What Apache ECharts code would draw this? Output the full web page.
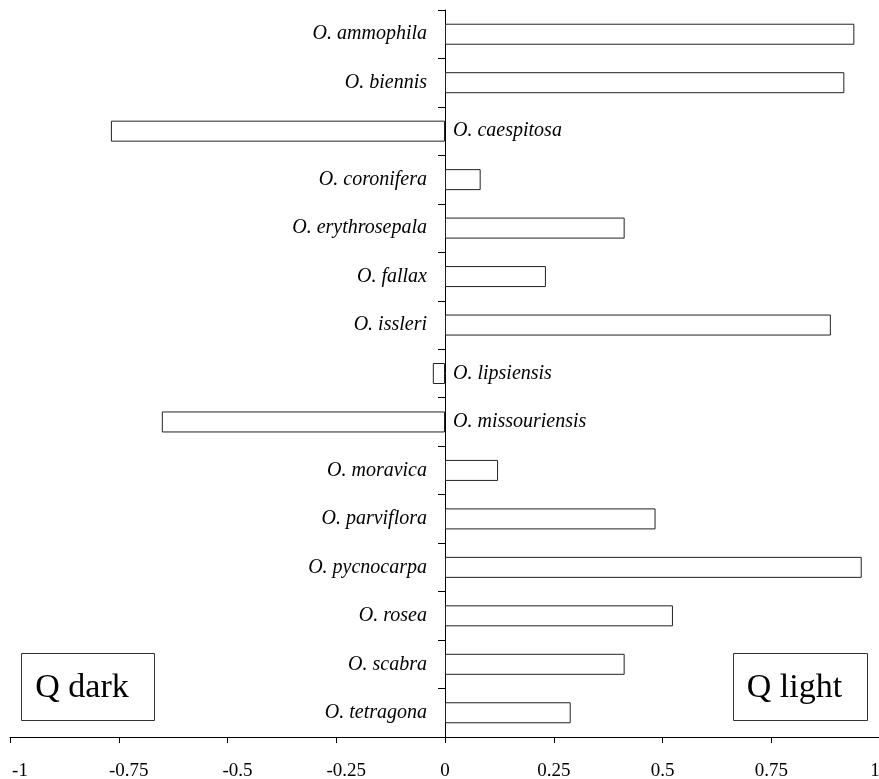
<!DOCTYPE html>
<html>
<head>
<meta charset="utf-8">
<script src="https://cdn.jsdelivr.net/npm/echarts@6/dist/echarts.min.js"></script>
<style>
html,body{margin:0;padding:0;background:#fff;}
#chart{width:879px;height:779px;}
</style>
</head>
<body>
<div id="chart"></div>
<script>
const species = ['O. ammophila','O. biennis','O. caespitosa','O. coronifera','O. erythrosepala','O. fallax','O. issleri','O. lipsiensis','O. missouriensis','O. moravica','O. parviflora','O. pycnocarpa','O. rosea','O. scabra','O. tetragona'];
const qValues = [0.941, 0.918, -0.768, 0.082, 0.413, 0.232, 0.887, -0.028, -0.651, 0.122, 0.484, 0.958, 0.524, 0.413, 0.289];
const xTicks = [-1, -0.75, -0.5, -0.25, 0, 0.25, 0.5, 0.75, 1];
const boxLabels = ['Q dark', 'Q light'];

const serif = '"Liberation Serif","Times New Roman",serif';

const chart = echarts.init(document.getElementById('chart'), null, {renderer: 'canvas'});

const barData = qValues.map(v => ({
  value: v,
  label: v < 0 ? {position: 'right', distance: 8} : {position: 'left', distance: 18}
}));

const tickFont = {fontFamily: serif, fontSize: 19, color: '#000'};

chart.setOption({
  animation: false,
  backgroundColor: '#ffffff',
  grid: {left: 10, width: 870, top: 10, bottom: 42, containLabel: false, outerBoundsMode: 'none'},
  xAxis: {
    type: 'value',
    position: 'bottom',
    min: xTicks[0],
    max: xTicks[xTicks.length - 1],
    interval: 0.25,
    splitLine: {show: false},
    axisLine: {show: true, onZero: false, lineStyle: {color: '#000', width: 1, type: 'solid'}},
    axisTick: {show: true, length: 6, lineStyle: {color: '#000'}},
    axisLabel: {
      show: true,
      color: '#000',
      fontFamily: serif,
      fontSize: 19,
      margin: 25,
      showMinLabel: true,
      showMaxLabel: true,
      hideOverlap: false,
      formatter: v => v < 0 ? '{neg|' + v + '}' : (v === xTicks[xTicks.length - 1] ? '{last|' + v + '}' : '{pos|' + v + '}'),
      rich: {
        neg: Object.assign({padding: [0, 0, 0, 20]}, tickFont),
        last: Object.assign({padding: [0, 10, 0, 0]}, tickFont),
        pos: Object.assign({}, tickFont)
      }
    }
  },
  yAxis: {
    type: 'category',
    data: species,
    inverse: true,
    axisLine: {show: true, onZero: true, lineStyle: {color: '#000', width: 1}},
    axisTick: {show: true, length: 7, lineStyle: {color: '#000'}},
    axisLabel: {show: false},
    splitLine: {show: false}
  },
  series: [{
    type: 'bar',
    data: barData,
    barWidth: 21,
    itemStyle: {color: '#ffffff', borderColor: '#222', borderWidth: 1},
    label: {
      show: true,
      formatter: '{b}',
      color: '#000',
      fontFamily: serif,
      fontStyle: 'italic',
      fontSize: 20
    }
  }],
  graphic: [
    {
      type: 'group', left: 21, top: 653,
      children: [
        {type: 'rect', shape: {x: 0, y: 0, width: 133, height: 67}, style: {fill: '#fff', stroke: '#333', lineWidth: 1}},
        {type: 'text', style: {x: 60.5, y: 35, text: boxLabels[0], fill: '#000', font: '34px ' + serif, textAlign: 'center', textVerticalAlign: 'middle'}}
      ]
    },
    {
      type: 'group', left: 733, top: 653,
      children: [
        {type: 'rect', shape: {x: 0, y: 0, width: 134, height: 67}, style: {fill: '#fff', stroke: '#333', lineWidth: 1}},
        {type: 'text', style: {x: 61, y: 35, text: boxLabels[1], fill: '#000', font: '34px ' + serif, textAlign: 'center', textVerticalAlign: 'middle'}}
      ]
    }
  ]
});
</script>
</body>
</html>
